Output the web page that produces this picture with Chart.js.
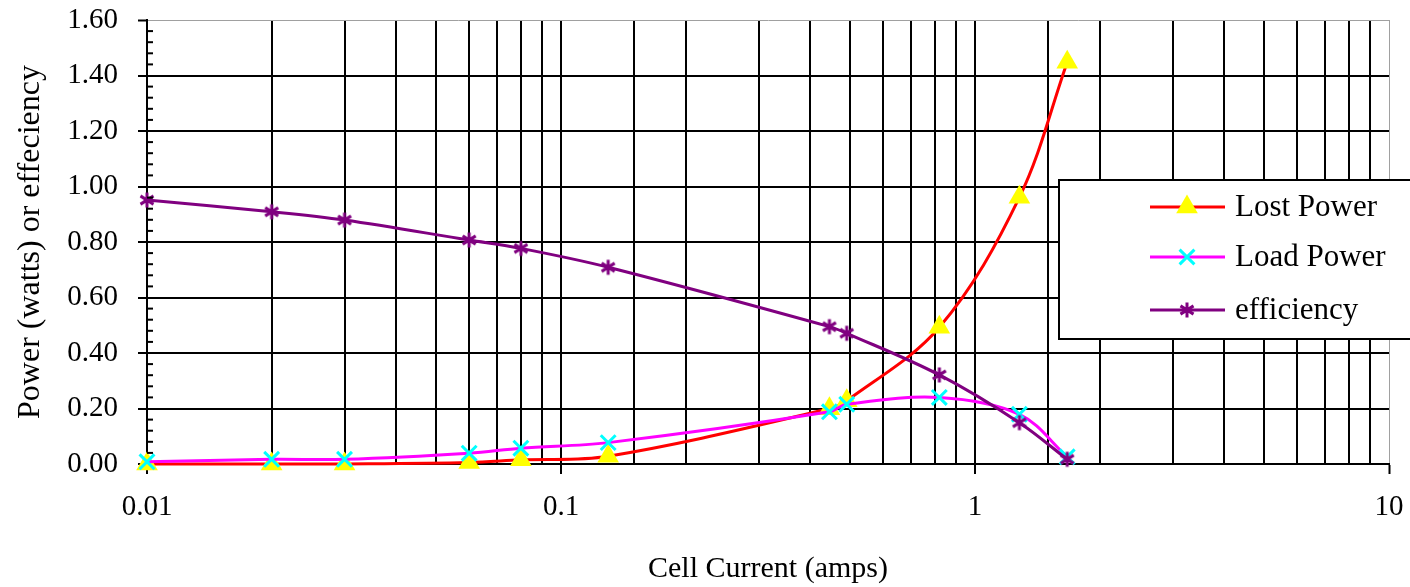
<!DOCTYPE html>
<html>
<head>
<meta charset="utf-8">
<title>Cell Current vs Power</title>
<script src="https://cdn.jsdelivr.net/npm/chart.js@4.4.1/dist/chart.umd.min.js"></script>
<style>
  html, body { margin: 0; padding: 0; background: #fff; }
  #wrap { width: 1410px; height: 587px; }
</style>
</head>
<body>
<div id="wrap"><canvas id="powerChart"></canvas></div>
<script>
// values (amps / watts)
const current    = [0.01, 0.02, 0.03, 0.06, 0.08, 0.13, 0.445, 0.49, 0.82, 1.28, 1.67];
const lostPower  = [0, 0, 0, 0.005, 0.015, 0.028, 0.199, 0.228, 0.493, 0.961, 1.448];
const loadPower  = [0.008, 0.017, 0.017, 0.039, 0.057, 0.077, 0.188, 0.215, 0.240, 0.179, 0.026];
const efficiency = [0.951, 0.909, 0.879, 0.807, 0.777, 0.709, 0.495, 0.471, 0.321, 0.149, 0.017];

const seriesNames = ['Lost Power', 'Load Power', 'efficiency'];
const xTickLabels = ['0.01', '0.1', '1', '10'];
const yTickLabels = ['0.00', '0.20', '0.40', '0.60', '0.80', '1.00', '1.20', '1.40', '1.60'];

const FONT = "'Liberation Serif', 'Times New Roman', serif";

const toPoints = ys => current.map((x, i) => ({ x: x, y: ys[i] }));

const isDecade = v => Math.abs(Math.log10(v) - Math.round(Math.log10(v))) < 1e-6;
const isMajorY = v => Math.abs(v / 0.2 - Math.round(v / 0.2)) < 1e-6;

// asterisk marker like the spreadsheet one
function makeStar(color, size) {
    const c = document.createElement('canvas');
    c.width = size; c.height = size;
    const g = c.getContext('2d');
    const m = size / 2, r = size / 2 - 1.5;
    g.strokeStyle = color;
    g.lineWidth = 3;
    g.beginPath();
    g.moveTo(m, m - r); g.lineTo(m, m + r);
    g.moveTo(m - r * 0.87, m - r * 0.55); g.lineTo(m + r * 0.87, m + r * 0.55);
    g.moveTo(m - r * 0.87, m + r * 0.55); g.lineTo(m + r * 0.87, m - r * 0.55);
    g.stroke();
    return c;
}
const starMark = makeStar('#800080', 18);

// minor ticks on the inside of the y axis
const yMinorTicks = {
    id: 'yMinorTicks',
    afterDatasetsDraw(chart) {
        const ys = chart.scales.y;
        const ctx = chart.ctx;
        ctx.save();
        ctx.strokeStyle = '#000';
        ctx.lineWidth = 2;
        ys.ticks.forEach(t => {
            if (isMajorY(t.value)) return;
            const py = ys.getPixelForValue(t.value);
            ctx.beginPath();
            ctx.moveTo(ys.right, py);
            ctx.lineTo(ys.right + 6, py);
            ctx.stroke();
        });
        ctx.restore();
    }
};

// boxed legend sitting over the plot on the right
const legendBox = {
    id: 'legendBox',
    afterDraw(chart) {
        const ctx = chart.ctx;
        ctx.save();
        ctx.fillStyle = '#fff';
        ctx.strokeStyle = '#000';
        ctx.lineWidth = 2;
        ctx.fillRect(1059, 180, 360, 159);
        ctx.strokeRect(1059, 180, 360, 159);
        const rows = [207, 257, 310];
        chart.data.datasets.forEach((ds, i) => {
            const y = rows[i];
            ctx.strokeStyle = ds.borderColor;
            ctx.lineWidth = 3;
            ctx.beginPath();
            ctx.moveTo(1150, y); ctx.lineTo(1225, y);
            ctx.stroke();
            ctx.fillStyle = ds.pointBackgroundColor;
            ctx.strokeStyle = ds.pointBorderColor;
            ctx.lineWidth = ds.pointBorderWidth;
            Chart.helpers.drawPoint(ctx, {
                pointStyle: ds.pointStyle, radius: ds.pointRadius,
                rotation: 0, borderWidth: ds.pointBorderWidth
            }, 1187, y);
            ctx.fillStyle = '#000';
            ctx.font = '31px ' + FONT;
            ctx.textBaseline = 'middle';
            ctx.textAlign = 'left';
            ctx.fillText(ds.label, 1235, y + 1);
        });
        ctx.restore();
    }
};

new Chart(document.getElementById('powerChart'), {
    type: 'line',
    data: {
        datasets: [{
            label: seriesNames[0],
            data: toPoints(lostPower),
            borderColor: '#ff0000',
            borderWidth: 3,
            pointStyle: 'triangle',
            pointRadius: 12.5,
            pointBackgroundColor: '#ffff00',
            pointBorderColor: '#ffff00',
            pointBorderWidth: 0,
            order: 2
        }, {
            label: seriesNames[1],
            data: toPoints(loadPower),
            borderColor: '#ff00ff',
            borderWidth: 3,
            pointStyle: 'crossRot',
            pointRadius: 10.5,
            pointBackgroundColor: '#00ffff',
            pointBorderColor: '#00ffff',
            pointBorderWidth: 3,
            order: 1
        }, {
            label: seriesNames[2],
            data: toPoints(efficiency),
            borderColor: '#800080',
            borderWidth: 3,
            pointStyle: starMark,
            pointRadius: 9,
            pointBackgroundColor: '#800080',
            pointBorderColor: '#800080',
            pointBorderWidth: 3,
            order: 0
        }]
    },
    options: {
        responsive: true,
        maintainAspectRatio: false,
        animation: false,
        clip: false,
        layout: { autoPadding: false, padding: { top: 20, right: 21, left: 0, bottom: 0 } },
        plugins: { legend: { display: false }, tooltip: { enabled: false } },
        elements: { line: { tension: 0.35 } },
        scales: {
            x: {
                type: 'logarithmic',
                min: 0.01,
                max: 10,
                afterFit(scale) {
                    scale.height = 123;
                    scale.paddingLeft = 0;
                    scale.paddingRight = 0;
                },
                border: { color: '#000', width: 2 },
                grid: {
                    color: c => (c.tick && Math.abs(c.tick.value - 10) < 1e-6) ? '#a0a0a0' : '#000',
                    lineWidth: c => (c.tick && Math.abs(c.tick.value - 10) < 1e-6) ? 1 : 2,
                    tickColor: c => (c.tick && isDecade(c.tick.value)) ? '#000' : 'rgba(0,0,0,0)',
                    tickLength: 10,
                    tickWidth: 2
                },
                ticks: {
                    autoSkip: false,
                    maxRotation: 0,
                    padding: 16,
                    color: '#000',
                    font: { family: FONT, size: 29 },
                    callback: v => isDecade(v) ? xTickLabels[Math.round(Math.log10(v)) + 2] : ''
                },
                title: {
                    display: true,
                    text: 'Cell Current (amps)',
                    color: '#000',
                    font: { family: FONT, size: 30 },
                    padding: { top: 0, bottom: 0 }
                }
            },
            y: {
                min: 0,
                max: 1.6,
                afterFit(scale) {
                    scale.width = 147;
                    scale.paddingTop = 0;
                    scale.paddingBottom = 0;
                },
                border: { color: '#000', width: 2 },
                grid: {
                    color: c => {
                        const v = c.tick ? c.tick.value : 0;
                        if (!isMajorY(v)) return 'rgba(0,0,0,0)';
                        return Math.abs(v - 1.6) < 1e-6 ? '#a0a0a0' : '#000';
                    },
                    lineWidth: c => (c.tick && Math.abs(c.tick.value - 1.6) < 1e-6) ? 1 : 2,
                    tickColor: c => (c.tick && isMajorY(c.tick.value)) ? '#000' : 'rgba(0,0,0,0)',
                    tickLength: 9,
                    tickWidth: 2
                },
                ticks: {
                    stepSize: 0.04,
                    autoSkip: false,
                    padding: 20,
                    color: '#000',
                    font: { family: FONT, size: 29 },
                    callback: v => isMajorY(v) ? yTickLabels[Math.round(v / 0.2)] : ''
                },
                title: {
                    display: true,
                    text: 'Power (watts) or effeciency',
                    color: '#000',
                    font: { family: FONT, size: 32 },
                    padding: { top: 11, bottom: 0 }
                }
            }
        }
    },
    plugins: [yMinorTicks, legendBox]
});
</script>
</body>
</html>
